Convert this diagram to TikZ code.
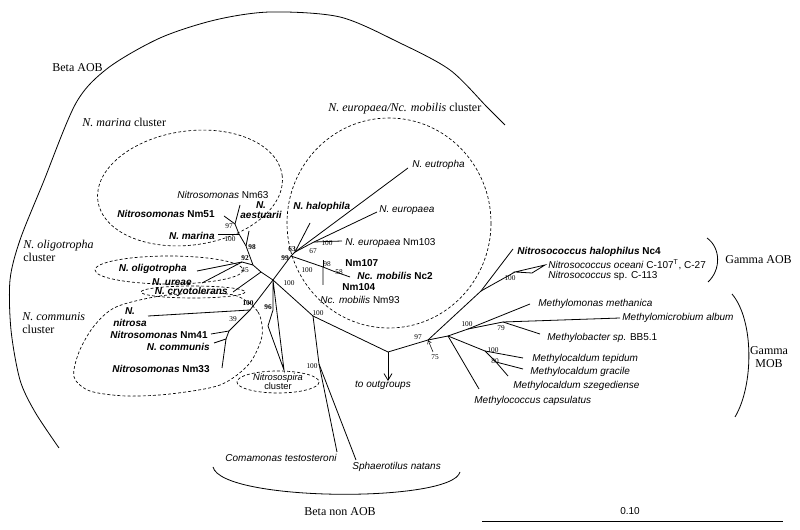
\documentclass[tikz,border=0pt]{standalone}
\usepackage{fontspec}
\setmainfont{Liberation Serif}
\setsansfont{Liberation Sans}
\usepackage{tikz}
\usetikzlibrary{arrows.meta}
\tikzset{taxon/.style={font=\sffamily\fontsize{7.5}{8.5}\selectfont, inner sep=0pt},
    strong/.style={taxon, font=\sffamily\bfseries\fontsize{7.5}{8.5}\selectfont},
    boot/.style={font=\fontsize{5.5}{5.5}\selectfont, inner sep=0pt},
    bootb/.style={boot, font=\bfseries\fontsize{5.5}{5.5}\selectfont},
    group/.style={font=\fontsize{9}{10}\selectfont, inner sep=0pt, align=left},
    cluster/.style={draw, dash pattern=on 2.2pt off 1.6pt, line width=0.5pt},
    branch/.style={line width=0.6pt}}

\begin{document}
\begin{tikzpicture}[x=0.75pt, y=-0.75pt, line width=0.6pt]
    \useasboundingbox (0,0) rectangle (800,530);

    \coordinate (C) at (273,280);
    \coordinate (Ncry) at (261,272);
    \coordinate (N45) at (253,265);
    \coordinate (N92) at (242,262);
    \coordinate (N98) at (246,246);
    \coordinate (NA) at (239,234);
    \coordinate (NB) at (235,224);
    \coordinate (tNm63) at (240,205);
    \coordinate (tNm51) at (224,216);
    \coordinate (tMarina) at (218,234);
    \coordinate (tAest) at (249,231);
    \coordinate (tOligo) at (197,271);
    \coordinate (tUreae) at (202,283);
    \coordinate (tCryo) at (233,292);
    \coordinate (N100c) at (250,310);
    \coordinate (tNitrosa) at (148,316);
    \coordinate (N39) at (240,320);
    \coordinate (N41) at (229,331);
    \coordinate (tNm41) at (211,334);
    \coordinate (N33) at (226,339);
    \coordinate (tCommunis) at (214,343);
    \coordinate (tNm33) at (222,368);
    \coordinate (N96) at (273,310);
    \coordinate (sp1) at (268,326);
    \coordinate (tSpira) at (284,370);
    \coordinate (N99) at (291,256);
    \coordinate (N63) at (295,252);
    \coordinate (tHalophila) at (310,223);
    \coordinate (tEutropha) at (408,168);
    \coordinate (N67) at (314,242);
    \coordinate (tEuropaea) at (377,212);
    \coordinate (tNm103) at (342,241);
    \coordinate (NM) at (323,267);
    \coordinate (tNm104) at (323,285);
    \coordinate (tNm107) at (323,260);
    \coordinate (N58) at (333,271);
    \coordinate (tNc2) at (350,277);
    \coordinate (N100b) at (313,316);
    \coordinate (Nnon) at (319,364);
    \coordinate (tComa) at (337,452);
    \coordinate (tSpha) at (356,460);
    \coordinate (R0) at (388,352);
    \coordinate (tOut) at (388,381);
    \coordinate (N97) at (428,340);
    \coordinate (a75) at (433,352);
    \coordinate (G) at (481,291);
    \coordinate (tNc4) at (513,249);
    \coordinate (triA) at (515,272);
    \coordinate (triT) at (545,265);
    \coordinate (triB) at (532,273);
    \coordinate (MR) at (448,336);
    \coordinate (M100) at (468,329);
    \coordinate (tMethanica) at (530,304);
    \coordinate (M79) at (503,322);
    \coordinate (tAlbum) at (620,318);
    \coordinate (tBacter) at (540,334);
    \coordinate (Mc) at (485,351);
    \coordinate (tTepidum) at (523,358);
    \coordinate (M80) at (496,362);
    \coordinate (tGracile) at (523,369);
    \coordinate (tSzeged) at (508,376);
    \coordinate (tCapsul) at (479,389);
    \coordinate (sbl) at (482,521);
    \coordinate (sbr) at (783,521);

    \draw[branch] (C) -- (Ncry) -- (N45) -- (N98) -- (NA) -- (NB) -- (tNm63);
    \draw[branch] (NB) -- (tNm51);
    \draw[branch] (NA) -- (tMarina);
    \draw[branch] (N98) -- (tAest);
    \draw[branch] (N45) -- (N92) -- (tOligo);
    \draw[branch] (N92) -- (tUreae);
    \draw[branch] (Ncry) -- (tCryo);
    \draw[branch] (C) -- (N100c) -- (tNitrosa);
    \draw[branch] (N100c) -- (N39) -- (N41) -- (tNm41);
    \draw[branch] (N41) -- (N33) -- (tCommunis);
    \draw[branch] (N33) -- (tNm33);
    \draw[branch] (C) -- (N96) -- (sp1) -- (tSpira) -- (C);
    \draw[branch] (C) -- (N99) -- (N63) -- (tHalophila);
    \draw[branch] (N63) -- (tEutropha);
    \draw[branch] (N63) -- (N67) -- (tEuropaea);
    \draw[branch] (N67) -- (tNm103);
    \draw[branch] (N99) -- (NM) -- (tNm104);
    \draw[branch] (NM) -- (tNm107);
    \draw[branch] (NM) -- (N58) -- (tNc2);
    \draw[branch] (C) -- (N100b) -- (R0);
    \draw[branch] (N100b) -- (Nnon) -- (tComa);
    \draw[branch] (Nnon) -- (tSpha);
    \draw[branch, -{Straight Barb[length=5pt, width=6pt]}] (R0) -- (tOut);
    \draw[branch] (R0) -- (N97) -- (G) -- (tNc4);
    \draw[branch] (G) -- (triA);
    \draw[branch] (triA) -- (triT) -- (triB) -- cycle;
    \draw[branch] (N97) -- (MR) -- (M100) -- (tMethanica);
    \draw[branch] (M100) -- (M79) -- (tAlbum);
    \draw[branch] (M79) -- (tBacter);
    \draw[branch] (MR) -- (Mc) -- (tTepidum);
    \draw[branch] (Mc) -- (M80) -- (tGracile);
    \draw[branch] (M80) -- (tSzeged);
    \draw[branch] (MR) -- (tCapsul);
    \draw[line width=0.4pt, -{Straight Barb[length=2.5pt, width=3pt]}] (a75) -- (N97);

    \draw[cluster, rotate around={8:(190,188)}] (190,188) ellipse [x radius=93, y radius=57];
    \draw[cluster] (169,270) ellipse [x radius=74, y radius=14];
    \draw[cluster] (193,292) ellipse [x radius=52, y radius=6];
    \draw[cluster] plot[smooth cycle] coordinates {(237,296) (258,312) (262,336) (249,364) (220,385) (170,394) (126,396) (90,391) (74,377) (79,352) (94,326) (116,307) (160,296) (205,293)};
    \draw[cluster] (389,223) ellipse [x radius=102, y radius=105];
    \draw[cluster] (278,382) ellipse [x radius=41, y radius=11];

    \draw plot[smooth] coordinates {(59,448) (35,412) (20,380) (11,330) (10,280) (20,240) (43,183) (76,103) (108,68) (160,38) (215,20) (270,12) (340,17) (400,43) (450,70) (487,107) (505,125)};
    \draw (707,238) .. controls (721,248) and (721,270) .. (708,282);
    \draw (732,294) .. controls (754,320) and (754,385) .. (735,417);
    \draw (213,467) .. controls (222,502) and (452,503) .. (460,472);
    \draw (sbl) -- (sbr);

    \node[taxon, anchor=west] (nm63) at (177,195) {\textit{Nitrosomonas} Nm63};
    \node[strong, anchor=east] (nm51) at (215,214) {\textit{Nitrosomonas} Nm51};
    \node[strong, align=center, font=\sffamily\bfseries\itshape\fontsize{7.5}{8}\selectfont] (aest) at (261,210) {N.\\aestuarii};
    \node[strong, anchor=east] (marina) at (215,236) {\textit{N. marina}};
    \node[strong, anchor=east] (oligo) at (187,269) {\textit{N. oligotropha}};
    \node[strong, anchor=east] (ureae) at (192,282) {\textit{N. ureae}};
    \node[strong, anchor=east] (cryo) at (228,292) {\textit{N. cryotolerans}};
    \node[strong, align=center, font=\sffamily\bfseries\itshape\fontsize{7.5}{8.5}\selectfont] (nitrosa) at (130,317) {N.\\nitrosa};
    \node[strong, anchor=east] (nm41) at (208,335) {\textit{Nitrosomonas} Nm41};
    \node[strong, anchor=east] (communis) at (210,347) {\textit{N. communis}};
    \node[strong, anchor=east] (nm33) at (210,369) {\textit{Nitrosomonas} Nm33};
    \node[align=center, taxon, font=\sffamily\fontsize{7}{6.8}\selectfont] (spira) at (278,382) {\textit{Nitrosospira}\\cluster};
    \node[strong, anchor=west] (halophila) at (293,207) {\textit{N. halophila}};
    \node[taxon, anchor=west] (eutropha) at (412,165) {\textit{N. eutropha}};
    \node[taxon, anchor=west] (europaea) at (379,210) {\textit{N. europaea}};
    \node[taxon, anchor=west] (nm103) at (345,243) {\textit{N. europaea} Nm103};
    \node[strong, anchor=west] (nm107) at (345,263) {Nm107};
    \node[strong, anchor=west] (nc2) at (357,276) {\textit{Nc. mobilis} Nc2};
    \node[strong, anchor=west] (nm104) at (342,287) {Nm104};
    \node[taxon, anchor=west] (nm93) at (320,300) {\textit{Nc. mobilis} Nm93};
    \node[strong, anchor=west] (nc4) at (517,252) {\textit{Nitrosococcus halophilus} Nc4};
    \node[taxon, anchor=west] (oceani) at (548,265) {\textit{Nitrosococcus oceani} C-107\textsuperscript{T}, C-27};
    \node[taxon, anchor=west] (c113) at (548,276) {\textit{Nitrosococcus} sp. C-113};
    \node[taxon, anchor=west] (methanica) at (538,304) {\textit{Methylomonas methanica}};
    \node[taxon, anchor=west] (album) at (622,318) {\textit{Methylomicrobium album}};
    \node[taxon, anchor=west] (bacter) at (547,338) {\textit{Methylobacter sp.} BB5.1};
    \node[taxon, anchor=west] (tepidum) at (532,359) {\textit{Methylocaldum tepidum}};
    \node[taxon, anchor=west] (gracile) at (530,372) {\textit{Methylocaldum gracile}};
    \node[taxon, anchor=west] (szeged) at (513,386) {\textit{Methylocaldum szegediense}};
    \node[taxon, anchor=west] (capsul) at (474,401) {\textit{Methylococcus capsulatus}};
    \node[taxon] (outg) at (383,385) {\textit{to outgroups}};
    \node[taxon, anchor=west] (coma) at (225,458) {\textit{Comamonas testosteroni}};
    \node[taxon, anchor=west] (spha) at (352,467) {\textit{Sphaerotilus natans}};
    \node[taxon] (scale) at (630,511) {0.10};

    \node[group, anchor=west] (betaaob) at (52,68) {Beta AOB};
    \node[group, anchor=west] (marinacl) at (82,122) {\textit{N. marina} cluster};
    \node[group, anchor=west] (oligocl) at (23,251) {\textit{N. oligotropha}\\cluster};
    \node[group, anchor=west] (communiscl) at (22,323) {\textit{N. communis}\\cluster};
    \node[group, anchor=west] (europaeacl) at (328,109) {\textit{N. europaea/Nc. mobilis} cluster};
    \node[group, anchor=west] (gammaaob) at (725,260) {Gamma AOB};
    \node[group, align=center] (gammamob) at (769,357) {Gamma\\MOB};
    \node[group] (betanon) at (340,512) {Beta non AOB};

    \node[boot] at (229,226) {97};
    \node[boot] at (230,239) {100};
    \node[bootb] at (252,247) {98};
    \node[bootb] at (245,258) {92};
    \node[boot] at (245,270) {45};
    \node[bootb] at (248,303) {100};
    \node[boot] at (233,319) {39};
    \node[bootb] at (268,307) {96};
    \node[bootb] at (285,258) {99};
    \node[bootb] at (292,249) {63};
    \node[boot] at (313,251) {67};
    \node[boot] at (327,243) {100};
    \node[boot] at (307,270) {100};
    \node[boot] at (327,264) {98};
    \node[boot] at (339,272) {58};
    \node[boot] at (289,283) {100};
    \node[boot] at (318,313) {100};
    \node[boot] at (312,366) {100};
    \node[boot] at (418,337) {97};
    \node[boot] at (435,357) {75};
    \node[boot] at (510,278) {100};
    \node[boot] at (467,324) {100};
    \node[boot] at (501,328) {79};
    \node[boot] at (493,350) {100};
    \node[boot] at (495,361) {80};
\end{tikzpicture}
\end{document}
